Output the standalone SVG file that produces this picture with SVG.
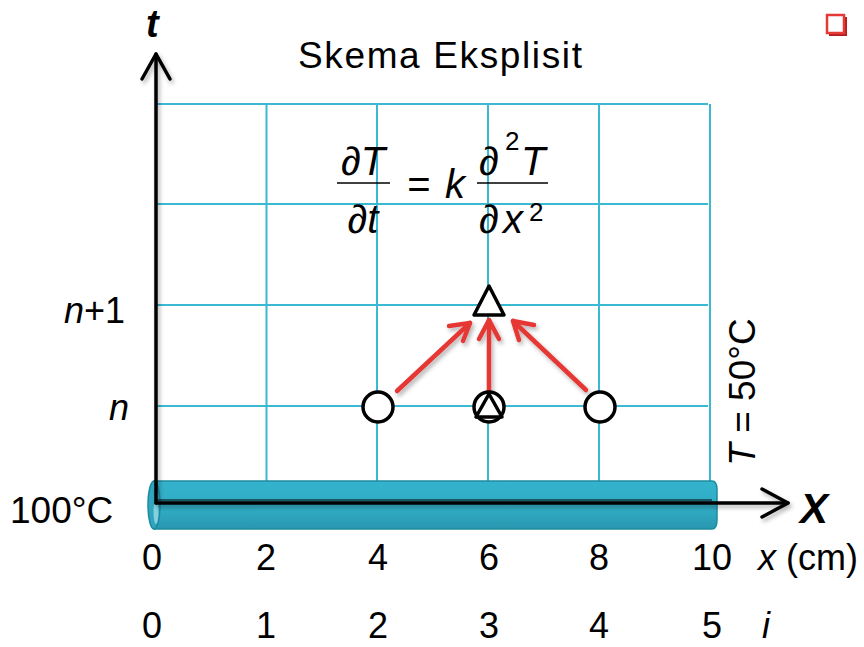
<svg xmlns="http://www.w3.org/2000/svg" width="864" height="647" viewBox="0 0 864 647">
<style>
text{font-family:"Liberation Sans",Arial,sans-serif;fill:#000}
.grid{stroke:#3BB8D2;stroke-width:2;fill:none}
.ax{stroke:#000;stroke-width:3.5;fill:none;stroke-linecap:round;stroke-linejoin:round}
.arr{stroke:#E53935;stroke-width:4.5;fill:none;stroke-linecap:round;stroke-linejoin:round}
.node{stroke:#000;stroke-width:3.5;fill:#fff;stroke-linejoin:round}
.lbl{font-size:36px}
.it{font-style:italic}
</style>
<defs>
<filter id="sh" x="-20%" y="-20%" width="140%" height="140%">
<feDropShadow dx="2" dy="3" stdDeviation="2" flood-color="#000" flood-opacity="0.3"/>
</filter>
<linearGradient id="pipe" x1="0" y1="0" x2="0" y2="1">
<stop offset="0" stop-color="#34B3CC"/>
<stop offset="0.6" stop-color="#30ABC4"/>
<stop offset="1" stop-color="#2897AE"/>
</linearGradient>
</defs>
<rect width="864" height="647" fill="#fff"/>

<!-- red bullet -->
<g id="bullet">
<rect x="829" y="17" width="18" height="19" fill="#B71C1C"/>
<rect x="827" y="15" width="17" height="18" fill="#fff" stroke="#E53935" stroke-width="2.5"/>
</g>

<!-- title -->
<text x="298" y="68" font-size="37" textLength="284" lengthAdjust="spacing">Skema Eksplisit</text>

<!-- grid -->
<g id="grid" class="grid">
<line x1="156" y1="104" x2="708" y2="104"/>
<line x1="156" y1="204" x2="708" y2="204"/>
<line x1="156" y1="305" x2="708" y2="305"/>
<line x1="156" y1="406" x2="708" y2="406"/>
<line x1="156" y1="104" x2="156" y2="503"/>
<line x1="266.5" y1="104" x2="266.5" y2="503"/>
<line x1="377" y1="104" x2="377" y2="503"/>
<line x1="488" y1="104" x2="488" y2="503"/>
<line x1="599" y1="104" x2="599" y2="503"/>
<line x1="710" y1="104" x2="710" y2="503"/>
</g>

<!-- pipe -->
<g id="pipe-bar">
<path d="M154,481 H712 Q717,481 717,490 V520 Q717,529 712,529 H154 Z" fill="url(#pipe)" stroke="#1E8AA0" stroke-width="1.5"/>
<ellipse cx="154" cy="505" rx="6" ry="24" fill="#2FA6BF" stroke="#1E8AA0" stroke-width="1.5"/>
<ellipse cx="156" cy="512" rx="2.5" ry="12" fill="#9DDBE8" opacity="0.8"/>
<line x1="156" y1="500" x2="712" y2="500" stroke="#000" stroke-width="1"/>
</g>

<!-- axes -->
<g id="axes" filter="url(#sh)">
<line class="ax" x1="156" y1="503" x2="156" y2="54"/>
<polyline class="ax" points="142,79 156,54 170,79" stroke-width="4.5"/>
<line class="ax" x1="156" y1="503" x2="788" y2="503"/>
<polyline class="ax" points="762,489 788,503 762,517" stroke-width="4.5"/>
</g>
<text x="146" y="37" font-size="38" font-weight="bold" class="it">t</text>
<text x="800" y="523" font-size="42" font-weight="bold" class="it">X</text>

<!-- equation -->
<g id="equation" font-size="40">
<text x="363" y="175" text-anchor="middle">∂<tspan class="it">T</tspan></text>
<line x1="337" y1="183" x2="390" y2="183" stroke="#000" stroke-width="1.5"/>
<text x="363" y="233" text-anchor="middle">∂<tspan class="it">t</tspan></text>
<text x="419" y="198" text-anchor="middle">=</text>
<text x="455" y="198" text-anchor="middle" class="it">k</text>
<text x="479" y="175">∂</text>
<text x="505" y="150" font-size="26">2</text>
<text x="521" y="175" class="it">T</text>
<line x1="477" y1="183" x2="548" y2="183" stroke="#000" stroke-width="1.5"/>
<text x="479" y="233">∂</text>
<text x="503" y="233" class="it">x</text>
<text x="529" y="221" font-size="26">2</text>
</g>

<!-- connectors -->
<g id="connectors" filter="url(#sh)">
<line class="arr" x1="397" y1="391" x2="470" y2="323"/>
<polyline class="arr" points="449,326 470,323 463,341"/>
<line class="arr" x1="489" y1="392" x2="489" y2="320"/>
<polyline class="arr" points="479,339 489,320 499,339"/>
<line class="arr" x1="586" y1="390" x2="513" y2="321"/>
<polyline class="arr" points="534,325 513,321 519,340"/>
</g>

<!-- nodes -->
<g id="node-n1-i3"><polygon class="node" points="489,286 474,315 504,315"/></g>
<g id="node-n-i2"><circle class="node" cx="378" cy="407" r="15"/></g>
<g id="node-n-i3"><circle class="node" cx="489" cy="407" r="15"/><polygon class="node" points="489,394 476,417 502,417"/></g>
<g id="node-n-i4"><circle class="node" cx="600" cy="407" r="15"/></g>

<!-- labels -->
<g id="labels" class="lbl">
<text x="125" y="323" text-anchor="end"><tspan class="it">n</tspan>+1</text>
<text x="129" y="420" text-anchor="end" class="it">n</text>
<text x="10" y="523" font-size="37">100°C</text>
<text transform="translate(755,392) rotate(-90)" text-anchor="middle" font-size="37"><tspan class="it">T</tspan> = 50°C</text>
<text x="152" y="570" text-anchor="middle">0</text>
<text x="266" y="570" text-anchor="middle">2</text>
<text x="378" y="570" text-anchor="middle">4</text>
<text x="489" y="570" text-anchor="middle">6</text>
<text x="599" y="570" text-anchor="middle">8</text>
<text x="712" y="570" text-anchor="middle">10</text>
<text x="758" y="570"><tspan class="it">x</tspan> (cm)</text>
<text x="152" y="638" text-anchor="middle">0</text>
<text x="266" y="638" text-anchor="middle">1</text>
<text x="378" y="638" text-anchor="middle">2</text>
<text x="489" y="638" text-anchor="middle">3</text>
<text x="599" y="638" text-anchor="middle">4</text>
<text x="712" y="638" text-anchor="middle">5</text>
<text x="762" y="638" class="it">i</text>
</g>
</svg>
